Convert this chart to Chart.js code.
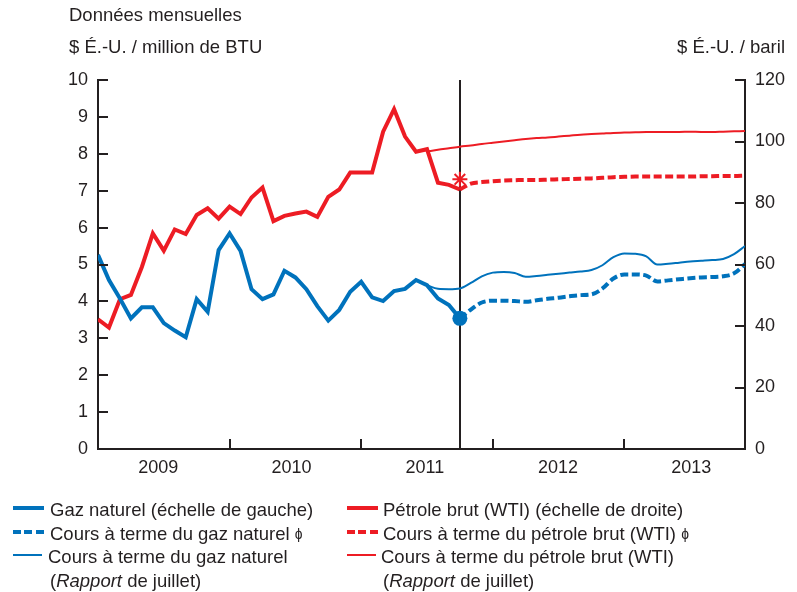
<!DOCTYPE html>
<html>
<head>
<meta charset="utf-8">
<script src="https://cdn.jsdelivr.net/npm/chart.js@4.4.0/dist/chart.umd.min.js"></script>
<style>
  body { margin: 0; background: #fff; }
  #wrap { position: relative; width: 797px; height: 592px; font-family: "Liberation Sans", Arial, sans-serif; color: #231f20; }
  canvas { position: absolute; left: 0; top: 0; }
  .t { position: absolute; font-size: 18.5px; line-height: 22px; white-space: nowrap; }
  .leg { position: absolute; top: 498px; font-size: 18.5px; line-height: 23.7px; white-space: nowrap; }
  .row { position: relative; height: 23.7px; }
  .sw { position: absolute; top: 10px; width: 31px; }
  .txt { position: absolute; }
  .sym { font-size: 14px; vertical-align: 1px; }
</style>
</head>
<body>
<div id="wrap">
  <canvas id="c" width="797" height="592"></canvas>
  <div class="t" style="left:69px; top:4px">Données mensuelles</div>
  <div class="t" style="left:69px; top:36px">$ É.-U. / million de BTU</div>
  <div class="t" style="right:12px; top:36px">$ É.-U. / baril</div>

  <div class="leg" style="left:13px">
    <div class="row"><div class="sw" style="border-top:4px solid #0072bc; margin-top:-2px"></div><div class="txt" style="left:37px">Gaz naturel (échelle de gauche)</div></div>
    <div class="row"><div class="sw" style="height:4px; margin-top:-2px; background:repeating-linear-gradient(90deg,#0072bc 0 8px,transparent 8px 11.5px)"></div><div class="txt" style="left:37px">Cours à terme du gaz naturel <span class="sym">ɸ</span></div></div>
    <div class="row"><div class="sw" style="border-top:2px solid #0072bc; margin-top:-1px; width:29px"></div><div class="txt" style="left:35px">Cours à terme du gaz naturel</div></div>
    <div class="row"><div class="txt" style="left:37px">(<i>Rapport</i> de juillet)</div></div>
  </div>
  <div class="leg" style="left:347px">
    <div class="row"><div class="sw" style="border-top:4px solid #ed1c24; margin-top:-2px"></div><div class="txt" style="left:36px">Pétrole brut (WTI) (échelle de droite)</div></div>
    <div class="row"><div class="sw" style="height:4px; margin-top:-2px; background:repeating-linear-gradient(90deg,#ed1c24 0 8px,transparent 8px 11.5px)"></div><div class="txt" style="left:36px">Cours à terme du pétrole brut (WTI) <span class="sym">ɸ</span></div></div>
    <div class="row"><div class="sw" style="border-top:2px solid #ed1c24; margin-top:-1px; width:29px"></div><div class="txt" style="left:34px">Cours à terme du pétrole brut (WTI)</div></div>
    <div class="row"><div class="txt" style="left:36px">(<i>Rapport</i> de juillet)</div></div>
  </div>
</div>

<script>
// mois 0 = janv. 2009 ... mois 59 = déc. 2013
var years = ['2009', '2010', '2011', '2012', '2013'];

// gaz naturel, $ É.-U. / million de BTU (janv. 2009 -> oct. 2011)
var gas = [5.26, 4.58, 4.08, 3.54, 3.84, 3.84, 3.41, 3.21, 3.03, 4.06, 3.72, 5.39,
           5.84, 5.37, 4.33, 4.06, 4.19, 4.83, 4.65, 4.33, 3.87, 3.48, 3.77, 4.26,
           4.53, 4.11, 4.01, 4.28, 4.34, 4.58, 4.44, 4.08, 3.90, 3.54];
// pétrole brut WTI, $ É.-U. / baril
var oil = [42.2, 39.5, 48.7, 50.1, 59.2, 70.1, 64.5, 71.4, 69.9, 76.1, 78.3, 74.9,
           78.8, 76.4, 81.8, 85.0, 74.1, 75.8, 76.6, 77.2, 75.5, 82.0, 84.4, 89.9,
           89.9, 89.9, 103.2, 110.5, 101.6, 96.7, 97.5, 86.6, 85.9, 84.4];

// cours à terme actuels (à partir d'oct. 2011)
var gasFut = [3.54, 3.78, 3.97, 4.02, 4.02, 4.01, 3.99, 4.03, 4.07, 4.10, 4.14, 4.17, 4.19,
              4.35, 4.62, 4.73, 4.73, 4.70, 4.54, 4.57, 4.60, 4.63, 4.65, 4.66, 4.68, 4.76, 5.01];
var oilFut = [84.4, 86.3, 86.8, 87.1, 87.3, 87.4, 87.5, 87.5, 87.6, 87.7, 87.8, 87.9, 88.0,
              88.2, 88.4, 88.5, 88.6, 88.6, 88.6, 88.6, 88.6, 88.6, 88.7, 88.7, 88.8, 88.8, 88.9];

// cours à terme du Rapport de juillet (à partir de juil. 2011)
var gasJul = [4.44, 4.34, 4.33, 4.35, 4.50, 4.68, 4.78, 4.80, 4.77, 4.67, 4.69, 4.72, 4.75, 4.78, 4.81,
              4.85, 4.98, 5.20, 5.30, 5.29, 5.22, 5.00, 5.02, 5.05, 5.08, 5.10, 5.12, 5.15, 5.28, 5.50];
var oilJul = [96.7, 97.3, 97.8, 98.3, 98.7, 99.2, 99.6, 100.0, 100.4, 100.8, 101.1, 101.3, 101.6, 101.9, 102.2,
              102.4, 102.6, 102.8, 102.9, 103.0, 103.1, 103.1, 103.1, 103.1, 103.2, 103.1, 103.1, 103.2, 103.3, 103.4];

var oilMark = [87.7]; // astérisque
var nowMonth = gas.length - 1;
var julMonth = 30;

var BLUE = '#0072bc', RED = '#ed1c24', INK = '#231f20';

function pts(arr, start) {
  return arr.map(function(v, i) { return {x: start + i, y: v}; });
}

var frame = {
  id: 'frame',
  beforeDatasetsDraw: function(chart) {
    var ctx = chart.ctx, a = chart.chartArea;
    var x = Math.round(chart.scales.x.getPixelForValue(nowMonth));
    ctx.save();
    ctx.strokeStyle = INK;
    ctx.lineWidth = 2;
    ctx.beginPath();
    ctx.moveTo(x, a.top);
    ctx.lineTo(x, a.bottom);
    ctx.stroke();
    ctx.restore();
  },
  afterDraw: function(chart) {
    var ctx = chart.ctx, a = chart.chartArea, s = chart.scales;
    ctx.save();
    ctx.strokeStyle = INK;
    ctx.lineWidth = 2;
    ctx.beginPath();
    for (var v = 0; v <= 10; v++) {
      var y = Math.round(s.y.getPixelForValue(v));
      ctx.moveTo(a.left, y); ctx.lineTo(a.left + 10, y);
    }
    for (var w = 0; w <= 120; w += 20) {
      var y2 = Math.round(s.y1.getPixelForValue(w));
      ctx.moveTo(a.right, y2); ctx.lineTo(a.right - 10, y2);
    }
    [12, 24, 36, 48].forEach(function(m) {
      var x = Math.round(s.x.getPixelForValue(m));
      ctx.moveTo(x, a.bottom); ctx.lineTo(x, a.bottom - 10);
    });
    ctx.stroke();
    ctx.restore();
  }
};

var tickFont = {family: '"Liberation Sans", Arial, sans-serif', size: 18};

new Chart(document.getElementById('c'), {
  type: 'line',
  data: {
    datasets: [
      { data: [{x: nowMonth, y: gas[nowMonth]}], yAxisID: 'y', showLine: false, order: 0,
        pointRadius: 7.5, pointBackgroundColor: BLUE, pointBorderWidth: 0 },
      { data: [{x: nowMonth, y: oilMark[0]}], yAxisID: 'y1', showLine: false, order: 0,
        pointStyle: 'star', pointRadius: 7.5, pointBorderColor: RED, pointBorderWidth: 2 },
      { data: pts(gas, 0), yAxisID: 'y', borderColor: BLUE, borderWidth: 4, order: 1 },
      { data: pts(oil, 0), yAxisID: 'y1', borderColor: RED, borderWidth: 4, order: 1 },
      { data: pts(gasFut, nowMonth), yAxisID: 'y', borderColor: BLUE, borderWidth: 4, borderDash: [8, 3.5], order: 2, cubicInterpolationMode: 'monotone' },
      { data: pts(oilFut, nowMonth), yAxisID: 'y1', borderColor: RED, borderWidth: 4, borderDash: [8, 3.5], order: 2, cubicInterpolationMode: 'monotone' },
      { data: pts(gasJul, julMonth), yAxisID: 'y', borderColor: BLUE, borderWidth: 2, order: 3, cubicInterpolationMode: 'monotone' },
      { data: pts(oilJul, julMonth), yAxisID: 'y1', borderColor: RED, borderWidth: 2, order: 3, cubicInterpolationMode: 'monotone' }
    ]
  },
  options: {
    responsive: false,
    animation: false,
    events: [],
    elements: { point: { radius: 0 }, line: { tension: 0, borderJoinStyle: 'miter', fill: false } },
    layout: { padding: { top: 80, left: 0, right: 0, bottom: 0 } },
    plugins: { legend: { display: false }, tooltip: { enabled: false } },
    scales: {
      x: {
        type: 'linear', min: 0, max: nowMonth + gasFut.length - 1,
        afterBuildTicks: function(s) { s.ticks = years.map(function(y, i) { return {value: 5.5 + i * 12.15}; }); },
        afterFit: function(s) { s.height = 143; },
        grid: { display: false, drawTicks: false },
        border: { color: INK, width: 2 },
        ticks: { autoSkip: false, maxRotation: 0, padding: 8, color: INK, font: tickFont,
                 callback: function(v, i) { return years[i]; } }
      },
      y: {
        position: 'left', min: 0, max: 10,
        afterFit: function(s) { s.width = 98; },
        grid: { display: false, drawTicks: false },
        border: { color: INK, width: 2 },
        ticks: { stepSize: 1, padding: 10, color: INK, font: tickFont }
      },
      y1: {
        position: 'right', min: 0, max: 120,
        afterFit: function(s) { s.width = 52; },
        grid: { display: false, drawTicks: false },
        border: { color: INK, width: 2 },
        ticks: { stepSize: 20, padding: 10, color: INK, font: tickFont }
      }
    }
  },
  plugins: [frame]
});
</script>
</body>
</html>
